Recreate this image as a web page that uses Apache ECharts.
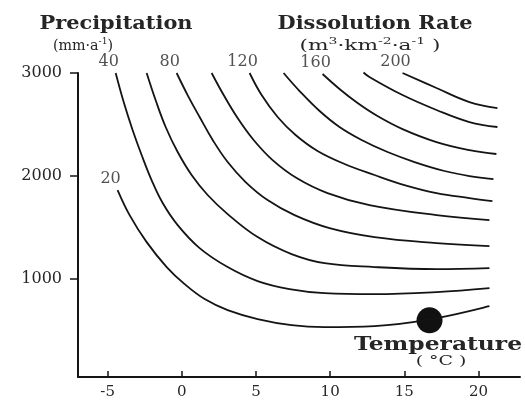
<!DOCTYPE html>
<html><head><meta charset="utf-8">
<script src="https://cdn.jsdelivr.net/npm/echarts@6/dist/echarts.min.js"></script>
<style>html,body{margin:0;padding:0;background:#fff}#c{width:525px;height:403px}</style>
</head><body><div id="c"></div>
<script>
// Tick labels
const xTicks = [-5, 0, 5, 10, 15, 20];
const yTicks = [1000, 2000, 3000];
// Dissolution rate of each curve (m3·km-2·a-1)
const rates = [20, 40, 60, 80, 100, 120, 140, 160, 180, 200];
const labeledRates = [20, 40, 80, 120, 160, 200];
// Each curve: [temperature °C, precipitation mm·a-1]
const curve20 = [[-4.33,1864],[-3.52,1621],[-2.37,1359],[-1.02,1117],[0.19,951],[1.54,806],[3.09,699],[5.11,612],[7.40,553],[9.62,534],[12.99,544],[16.83,612],[20.74,738]];
const curve40 = [[-4.46,3000],[-3.92,2718],[-3.32,2447],[-2.71,2204],[-2.04,1961],[-1.29,1738],[-0.28,1524],[1.20,1301],[3.09,1117],[5.11,981],[7.26,903],[9.62,864],[12.99,854],[17.17,874],[20.74,913]];
const curve60 = [[-2.37,3000],[-1.77,2738],[-1.09,2476],[-0.28,2233],[0.66,2010],[1.74,1816],[3.09,1631],[5.11,1408],[7.40,1243],[9.62,1155],[12.99,1117],[17.17,1097],[20.74,1107]];
const curve80 = [[-0.35,3000],[0.39,2786],[1.20,2573],[2.08,2350],[3.09,2136],[4.30,1942],[5.78,1767],[7.60,1621],[9.96,1495],[12.99,1408],[17.17,1350],[20.74,1320]];
const curve100 = [[2.01,3000],[2.82,2786],[3.76,2563],[4.84,2350],[6.12,2155],[7.74,1981],[9.82,1835],[12.65,1718],[17.17,1621],[20.74,1573]];
const curve120 = [[4.57,3000],[5.38,2786],[6.46,2573],[7.67,2398],[9.15,2243],[10.97,2117],[12.99,2010],[15.01,1913],[17.17,1835],[19.39,1786],[20.94,1757]];
const curve140 = [[6.86,3000],[7.94,2825],[9.29,2631],[10.63,2476],[12.12,2350],[13.87,2233],[15.69,2136],[17.71,2049],[19.39,2000],[21.01,1971]];
const curve160 = [[9.49,2990],[10.63,2845],[11.85,2709],[13.19,2583],[14.88,2456],[17.17,2330],[19.39,2252],[21.21,2214]];
const curve180 = [[12.25,3005],[12.65,2961],[14.88,2786],[17.17,2641],[19.39,2524],[21.28,2476]];
const curve200 = [[14.88,3000],[17.17,2854],[19.39,2718],[21.28,2660]];
const curves = [curve20, curve40, curve60, curve80, curve100, curve120, curve140, curve160, curve180, curve200];
// Marked point
const dotPoint = [[16.7, 600]];

const SERIF = '"DejaVu Serif", "Liberation Serif", serif';
const INK = '#141414';
const TXT = '#262626';

const series = curves.map((c, i) => ({
  name: String(rates[i]), type: 'line', data: c, smooth: 0.4,
  showSymbol: false, symbol: 'none', clip: false, silent: true,
  lineStyle: { color: INK, width: 1.8 }
}));
series.push({
  type: 'scatter', silent: true, symbolSize: 0,
  data: labeledRates.map(r => ({ value: curves[rates.indexOf(r)][0], rate: r })),
  label: { show: true, position: 'top', distance: 3, offset: [-7, 0],
    formatter: p => String(p.data.rate),
    fontFamily: SERIF, fontSize: 16, color: TXT }
});
series.push({
  type: 'scatter', silent: true, data: dotPoint, symbol: 'circle', symbolSize: 26,
  itemStyle: { color: '#111111', opacity: 1 }
});

function txt(x, y, text, size, weight, sx, rich) {
  const st = { text: text, fontFamily: SERIF, fontSize: size, fontWeight: weight,
      fill: TXT, align: 'center', verticalAlign: 'middle' };
  if (rich) st.rich = rich;
  return { type: 'text', x: x, y: y, scaleX: sx || 1, silent: true, style: st };
}
const supRich = {
  n: { fontFamily: SERIF, fontSize: 14, fill: TXT, verticalAlign: 'bottom', lineHeight: 16 },
  s: { fontFamily: SERIF, fontSize: 9, fill: TXT, verticalAlign: 'top', lineHeight: 16 }
};

const chart = echarts.init(document.getElementById('c'), null, { renderer: 'canvas' });
chart.setOption({
  animation: false,
  backgroundColor: '#ffffff',
  grid: { left: 78, right: 5, top: 73, bottom: 26 },
  xAxis: {
    type: 'value', min: -7, max: 22.8,
    axisLine: { show: true, onZero: false, lineStyle: { color: INK, width: 2 } },
    axisTick: { show: true, inside: true, length: 6, customValues: xTicks, lineStyle: { color: INK, width: 1.5 } },
    axisLabel: { customValues: xTicks, formatter: v => String(v), fontFamily: SERIF, fontSize: 15, color: TXT, margin: 8 },
    splitLine: { show: false }
  },
  yAxis: {
    type: 'value', min: 50, max: 3000,
    axisLine: { show: true, onZero: false, lineStyle: { color: INK, width: 2 } },
    axisTick: { show: true, length: 8, customValues: yTicks, lineStyle: { color: INK, width: 1.5 } },
    axisLabel: { customValues: yTicks, formatter: v => String(v), fontFamily: SERIF, fontSize: 16, color: TXT, margin: 16 },
    splitLine: { show: false }
  },
  graphic: [
    txt(116, 24, 'Precipitation', 18, 'bold', 1.16),
    txt(83, 45, '{n|(mm·a}{s|-1}{n|)}', 14, 'normal', 1.02, supRich),
    txt(375, 24, 'Dissolution Rate', 18, 'bold', 1.16),
    txt(370, 45, '{n|(m}{s|3}{n|·km}{s|-2}{n|·a}{s|-1}{n| )}', 14, 'normal', 1.55, supRich),
    txt(438, 345, 'Temperature', 18, 'bold', 1.30),
    txt(441, 362, '( °C )', 13, 'normal', 1.45)
  ],
  series: series
});
</script></body></html>
